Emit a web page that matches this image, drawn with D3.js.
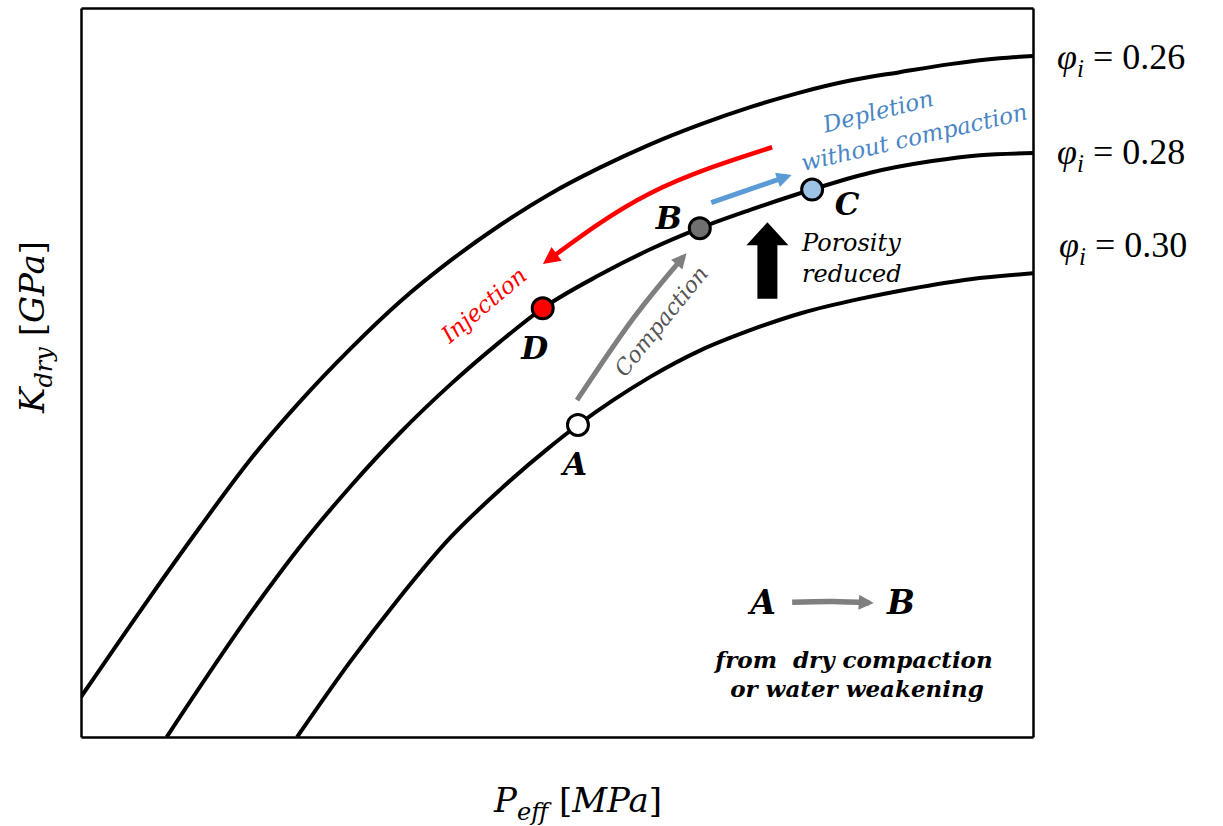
<!DOCTYPE html>
<html>
<head>
<meta charset="utf-8">
<script src="https://cdn.jsdelivr.net/npm/d3@7"></script>
<style>
  body { margin: 0; background: #fff; }
  svg text { font-family: 'DejaVu Serif', serif; }
</style>
</head>
<body>
<svg id="chart" width="1223" height="826"></svg>
<script>
// porosity curves, P_eff vs K_dry in relative units (0-100)
const porosities = ['0.26', '0.28', '0.30'];
const curve026 = [[0, 5.5], [7.25, 19.2], [12.5, 28.8], [17.75, 38.0], [23.0, 46.0], [28.26, 53.2],
  [33.5, 59.7], [38.76, 65.3], [44.0, 70.2], [49.26, 74.5], [54.5, 78.1], [59.8, 81.3], [65.0, 84.0],
  [70.3, 86.4], [75.5, 88.4], [80.8, 90.05], [86.0, 91.2], [91.3, 92.3], [96.5, 93.1], [100, 93.4]];
const curve028 = [[9.0, 0], [18.8, 18.8], [23.0, 26.1], [28.26, 34.3], [33.5, 41.7], [38.76, 48.3],
  [44.0, 54.2], [48.5, 58.8], [54.5, 63.4], [59.8, 66.9], [65.0, 69.8], [70.3, 72.3], [76.8, 75.1],
  [82.9, 77.4], [89.4, 79.0], [94.4, 79.8], [100, 80.1]];
const curve030 = [[22.7, 0], [28.26, 10.3], [33.2, 18.7], [38.76, 27.3], [44.0, 33.9], [49.26, 39.8],
  [52.2, 42.8], [55.9, 46.2], [59.8, 49.4], [65.0, 53.0], [70.3, 55.8], [75.8, 58.2], [81.8, 60.1],
  [87.2, 61.5], [93.4, 62.8], [100, 63.6]];

// states on the curves
const stateNames = ['A', 'B', 'C', 'D'];
const stateP = [52.2, 65.0, 76.8, 48.5];
const stateK = [42.8, 69.8, 75.1, 58.8];
const stateFill = ['#ffffff', '#707070', '#9dc3e6', '#ff0000'];

const margin = { top: 8, right: 190, bottom: 89, left: 81 };
const width = 1223 - margin.left - margin.right;
const height = 826 - margin.top - margin.bottom;

const x = d3.scaleLinear().domain([0, 100]).range([0, width]);
const y = d3.scaleLinear().domain([0, 100]).range([height, 0]);

const svg = d3.select('#chart');
const g = svg.append('g').attr('transform', 'translate(' + margin.left + ',' + margin.top + ')');

// arrow heads
const defs = svg.append('defs');
[['red', '#ff0000', 20, 17], ['blue', '#5b9bd5', 18, 15], ['gray', '#7f7f7f', 18, 15]].forEach(m => {
  defs.append('marker')
    .attr('id', 'head-' + m[0])
    .attr('viewBox', '0 0 10 10')
    .attr('refX', 7).attr('refY', 5)
    .attr('markerUnits', 'userSpaceOnUse')
    .attr('markerWidth', m[2]).attr('markerHeight', m[3])
    .attr('orient', 'auto')
    .append('path').attr('d', 'M0,0 L10,5 L0,10 z').attr('fill', m[1]);
});
defs.append('clipPath').attr('id', 'plot-clip')
  .append('rect').attr('width', width).attr('height', height);

// frame: four axes with no ticks
const noTicks = a => a.tickValues([]).tickSizeOuter(0);
g.append('g').attr('transform', 'translate(0,' + height + ')').call(noTicks(d3.axisBottom(x)));
g.append('g').call(noTicks(d3.axisTop(x)));
g.append('g').call(noTicks(d3.axisLeft(y)));
g.append('g').attr('transform', 'translate(' + width + ',0)').call(noTicks(d3.axisRight(y)));
g.selectAll('.domain').attr('stroke', '#000').attr('stroke-width', 2.5);

// curves
const line = d3.line().x(d => x(d[0])).y(d => y(d[1])).curve(d3.curveMonotoneX);
g.append('g').attr('clip-path', 'url(#plot-clip)')
  .selectAll('path.curve')
  .data([curve026, curve028, curve030])
  .enter().append('path')
  .attr('class', 'curve')
  .attr('d', line)
  .attr('fill', 'none')
  .attr('stroke', '#000')
  .attr('stroke-width', 4);

// curve labels on the right
const labelY = [61, 156, 249];
porosities.forEach((p, i) => {
  const t = g.append('text').attr('x', width + 24 + (i === 2 ? 2 : 0)).attr('y', labelY[i])
    .style('font-family', "'Liberation Serif', serif")
    .attr('font-size', 36).attr('fill', '#000');
  t.append('tspan').attr('font-style', 'italic').text('φ');
  t.append('tspan').attr('font-style', 'italic').attr('font-size', 25).attr('dy', 8).text('i');
  t.append('tspan').attr('dy', -8).text(' = ' + p);
});

// annotation arrows
const smooth = d3.line().x(d => x(d[0])).y(d => y(d[1])).curve(d3.curveNatural);
g.append('path')
  .attr('d', smooth([[72.6, 80.9], [59.8, 74.6], [48.95, 65.3]]))
  .attr('fill', 'none').attr('stroke', '#ff0000').attr('stroke-width', 4.5)
  .attr('marker-end', 'url(#head-red)');
g.append('path')
  .attr('d', smooth([[52.1, 46.2], [58.0, 57.4], [63.3, 65.9]]))
  .attr('fill', 'none').attr('stroke', '#7f7f7f').attr('stroke-width', 5)
  .attr('marker-end', 'url(#head-gray)');
g.append('path')
  .attr('d', smooth([[66.2, 73.3], [74.2, 76.9]]))
  .attr('fill', 'none').attr('stroke', '#5b9bd5').attr('stroke-width', 5)
  .attr('marker-end', 'url(#head-blue)');
g.append('path')
  .attr('d', smooth([[74.7, 18.5], [79.0, 18.6], [82.8, 18.4]]))
  .attr('fill', 'none').attr('stroke', '#7f7f7f').attr('stroke-width', 5.5)
  .attr('marker-end', 'url(#head-gray)');

// black "porosity reduced" arrow
const ax = x(72.1), aTop = y(70.6), aBot = y(60.1);
g.append('path')
  .attr('d', d3.line()([[ax - 10, aBot], [ax - 10, aTop + 23], [ax - 21, aTop + 23], [ax, aTop],
    [ax + 21, aTop + 23], [ax + 10, aTop + 23], [ax + 10, aBot]]) + 'Z')
  .attr('fill', '#000');

// state markers
g.selectAll('circle.state')
  .data(stateNames)
  .enter().append('circle')
  .attr('class', 'state')
  .attr('cx', (d, i) => x(stateP[i]))
  .attr('cy', (d, i) => y(stateK[i]))
  .attr('r', 10.5)
  .attr('fill', (d, i) => stateFill[i])
  .attr('stroke', '#000')
  .attr('stroke-width', 3);

const stateOffset = [[-3, 50], [-31, 1], [35, 25], [-8, 51]];
g.selectAll('text.state')
  .data(stateNames)
  .enter().append('text')
  .attr('class', 'state')
  .attr('x', (d, i) => x(stateP[i]) + stateOffset[i][0])
  .attr('y', (d, i) => y(stateK[i]) + stateOffset[i][1])
  .attr('text-anchor', 'middle')
  .attr('font-size', 31).attr('font-weight', 'bold').attr('font-style', 'italic')
  .text(d => d);

// annotation texts (page pixels)
const notes = svg.append('g');
notes.append('text').attr('transform', 'translate(489,311) rotate(-40)')
  .attr('text-anchor', 'middle').attr('font-size', 23).attr('font-style', 'italic')
  .attr('fill', '#ff0000').text('Injection');
notes.append('text').attr('transform', 'translate(667,326) rotate(-51)')
  .attr('text-anchor', 'middle').attr('font-size', 22).attr('font-style', 'italic')
  .attr('fill', '#555555').text('Compaction');
notes.append('text').attr('transform', 'translate(880,119) rotate(-14)')
  .attr('text-anchor', 'middle').attr('font-size', 23).attr('font-style', 'italic')
  .attr('fill', '#4a86c5').text('Depletion');
notes.append('text').attr('transform', 'translate(916,145) rotate(-13)')
  .attr('text-anchor', 'middle').attr('font-size', 23).attr('font-style', 'italic')
  .attr('fill', '#4a86c5').text('without compaction');
notes.append('text').attr('x', 802).attr('y', 251)
  .attr('font-size', 24).attr('font-style', 'italic').text('Porosity');
notes.append('text').attr('x', 802).attr('y', 282)
  .attr('font-size', 24).attr('font-style', 'italic').text('reduced');

notes.append('text').attr('x', 763).attr('y', 614).attr('text-anchor', 'middle')
  .attr('font-size', 33).attr('font-weight', 'bold').attr('font-style', 'italic').text('A');
notes.append('text').attr('x', 901).attr('y', 614).attr('text-anchor', 'middle')
  .attr('font-size', 33).attr('font-weight', 'bold').attr('font-style', 'italic').text('B');
notes.append('text').attr('x', 854).attr('y', 668).attr('text-anchor', 'middle')
  .style('white-space', 'pre')
  .attr('font-size', 23).attr('font-weight', 'bold').attr('font-style', 'italic').text('from  dry compaction');
notes.append('text').attr('x', 857).attr('y', 697).attr('text-anchor', 'middle')
  .attr('font-size', 23).attr('font-weight', 'bold').attr('font-style', 'italic').text('or water weakening');

// axis titles
const xt = svg.append('text').attr('x', 578).attr('y', 812).attr('text-anchor', 'middle').attr('font-size', 34);
xt.append('tspan').attr('font-style', 'italic').text('P');
xt.append('tspan').attr('font-style', 'italic').attr('font-size', 24).attr('dy', 8).text('eff');
xt.append('tspan').attr('dy', -8).text(' [');
xt.append('tspan').attr('font-style', 'italic').text('MPa');
xt.append('tspan').text(']');

const yt = svg.append('text').attr('transform', 'translate(44,327) rotate(-90)')
  .attr('text-anchor', 'middle').attr('font-size', 34);
yt.append('tspan').attr('font-style', 'italic').text('K');
yt.append('tspan').attr('font-style', 'italic').attr('font-size', 24).attr('dy', 8).text('dry');
yt.append('tspan').attr('dy', -8).text(' [');
yt.append('tspan').attr('font-style', 'italic').text('GPa');
yt.append('tspan').text(']');
</script>
</body>
</html>
